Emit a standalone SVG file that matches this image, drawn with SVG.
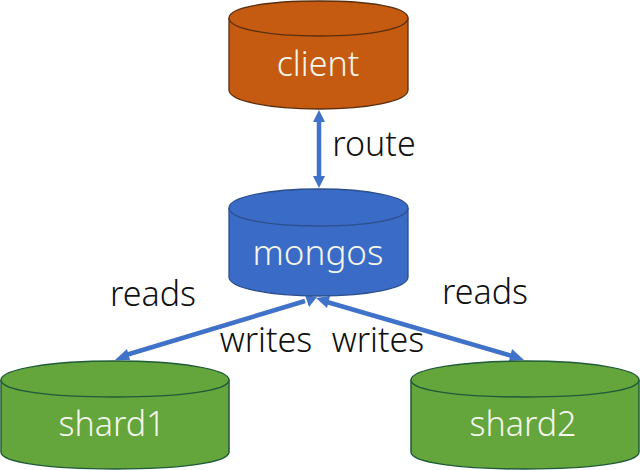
<svg xmlns="http://www.w3.org/2000/svg" width="640" height="470" viewBox="0 0 640 470">
<style>
text{font-family:"Noto Sans","Open Sans","Liberation Sans",sans-serif;font-size:34px;font-weight:300;text-anchor:middle}
.l{fill:#111}
.w{fill:#f4f6ec}
.o{fill:#c55a11;stroke:#5a2f10;stroke-width:1.3}
.b{fill:#3a6bc6;stroke:#2c4f8f;stroke-width:1.3}
.g{fill:#64a53c;stroke:#1f5a3a;stroke-width:1.5}
.c{fill:none;stroke:#3f72c8;stroke-width:4.5}
.h{fill:#3f72c8}
</style>
<rect width="640" height="470" fill="#fff"/>
<g id="connectors">
<line class="c" x1="319" y1="122" x2="319" y2="178"/>
<polygon class="h" points="319,110 313,122 325,122"/>
<polygon class="h" points="319,188 313,176 325,176"/>
<line class="c" x1="126" y1="355" x2="305" y2="301"/>
<polygon class="h" points="115,360 127,349 130,360"/>
<polygon class="h" points="317,297 305,295 309,307"/>
<line class="c" x1="327" y1="302" x2="512" y2="356"/>
<polygon class="h" points="316,298 330,296 327,308"/>
<polygon class="h" points="524,360 512,349 509,361"/>
</g>
<g id="client">
<path class="o" d="M229 18C229 7 269 1 319 1S408 7 408 18V90C408 101 369 109 319 109S229 101 229 90Z"/>
<path class="o" d="M229 18C229 29 269 36 319 36S408 29 408 18" fill="none"/>
<text class="w" x="318" y="76">client</text>
</g>
<g id="mongos">
<path class="b" d="M229 208C229 197 269 189 319 189S408 197 408 208V277C408 288 369 296 319 296S229 288 229 277Z"/>
<path class="b" d="M229 208C229 219 269 226 319 226S408 219 408 208" fill="none"/>
<text class="w" x="318" y="265" style="font-size:35px">mongos</text>
</g>
<g id="shard1">
<path class="g" d="M1 380C1 369 52 361 115 361S229 369 229 380V452C229 463 178 469 115 469S1 463 1 452Z"/>
<path class="g" d="M1 380C1 391 52 397 115 397S229 391 229 380" fill="none"/>
<text class="w" x="112" y="436">shard1</text>
</g>
<g id="shard2">
<path class="g" d="M411 380C411 369 462 361 525 361S639 369 639 380V452C639 463 588 469 525 469S411 463 411 452Z"/>
<path class="g" d="M411 380C411 391 462 397 525 397S639 391 639 380" fill="none"/>
<text class="w" x="523" y="436">shard2</text>
</g>
<g id="labels">
<text class="l" x="374" y="156">route</text>
<text class="l" x="153" y="306">reads</text>
<text class="l" x="485" y="304">reads</text>
<text class="l" x="266" y="352">writes</text>
<text class="l" x="378" y="352">writes</text>
</g>
</svg>
